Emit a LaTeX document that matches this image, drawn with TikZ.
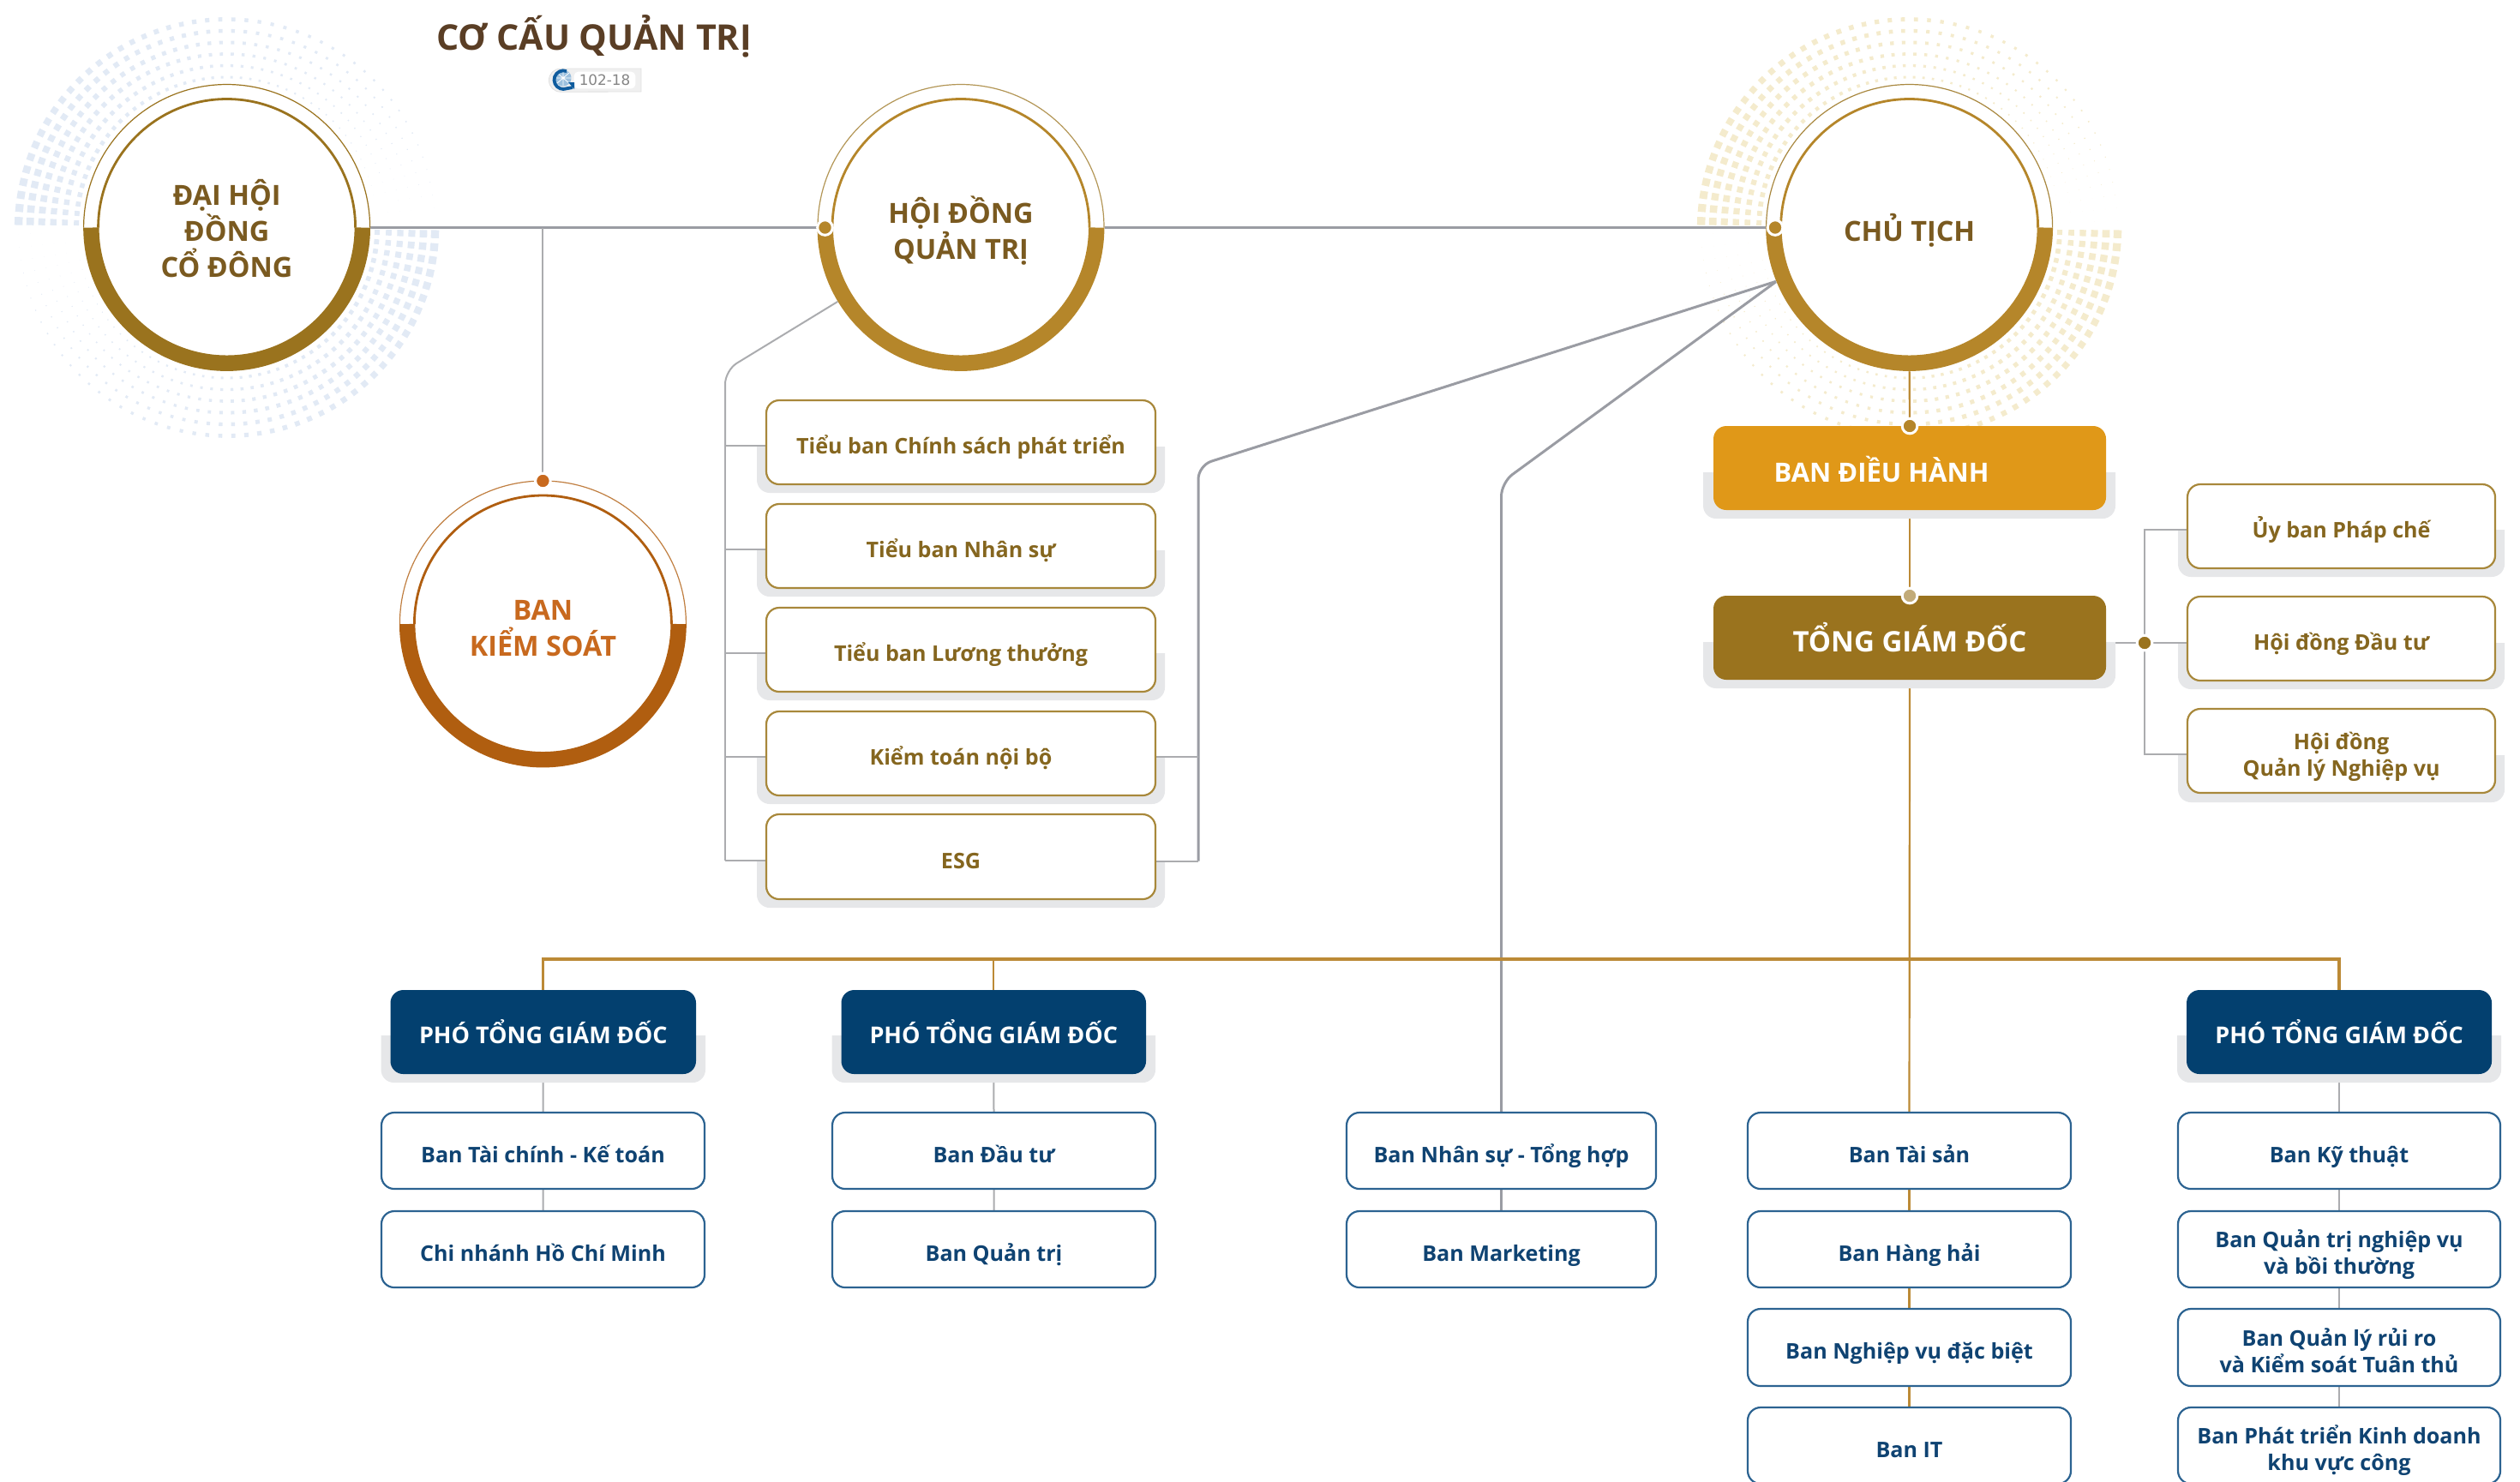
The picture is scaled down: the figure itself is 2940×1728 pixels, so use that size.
\documentclass[tikz,border=0pt]{standalone}
\usepackage{fontspec}
\setmainfont{Open Sans}
\newfontfamily\badgefont{DejaVu Sans}
\pgfdeclarelayer{halo}\pgfdeclarelayer{conna}\pgfdeclarelayer{shad}\pgfdeclarelayer{connb}
\pgfsetlayers{halo,conna,shad,connb,main}
\definecolor{titlec}{HTML}{5A3E25}
\definecolor{ringtext}{HTML}{7A5A20}
\definecolor{goldA}{HTML}{9A731E}
\definecolor{goldB}{HTML}{B5862A}
\definecolor{rust}{HTML}{B05E10}
\definecolor{rusttext}{HTML}{C8691E}
\definecolor{goldtext}{HTML}{85661F}
\definecolor{goldedge}{HTML}{A8883B}
\definecolor{navy}{HTML}{03406F}
\definecolor{navyedge}{HTML}{2C6391}
\definecolor{navytext}{HTML}{0F4372}
\definecolor{orangeb}{HTML}{E09818}
\definecolor{shadowc}{HTML}{E6E7E9}
\definecolor{mainline}{HTML}{9A9CA3}
\definecolor{thinline}{HTML}{ABACAF}
\definecolor{goldline}{HTML}{BC8A36}
\definecolor{dotblue}{HTML}{E2EAF5}
\definecolor{dotgold}{HTML}{F4EBCD}
\definecolor{logoblue}{HTML}{0F5C9E}
\definecolor{logolight}{HTML}{9CC0DE}
\tikzset{
  mainl/.style={draw=mainline,line width=0.75pt},
  thinl/.style={draw=thinline,line width=0.5pt},
  goldl/.style={draw=goldline,line width=0.55pt},
  goldbar/.style={draw=goldline,line width=0.8pt},
  shadowfill/.style={fill=shadowc},
  boxbase/.style={rectangle,rounded corners=3.75pt,inner sep=0pt,outer sep=0pt,align=center,fill=white,line width=0.55pt},
  goldbox/.style={boxbase,draw=goldedge,text=goldtext,font=\fontsize{6.28}{7.75}\selectfont\bfseries},
  navybox/.style={boxbase,draw=navyedge,text=navytext,font=\fontsize{6.28}{7.75}\selectfont\bfseries},
  headbox/.style={boxbase,draw=none,fill=navy,text=white,font=\fontsize{6.75}{7.75}\selectfont\bfseries},
  bigbox/.style={boxbase,draw=none,text=white,font=\fontsize{8.25}{9}\selectfont\bfseries},
  ringnode/.style={circle,minimum size=83.5pt,inner sep=0pt,outer sep=0pt,align=center,font=\fontsize{8.1}{10.5}\selectfont\bfseries},
  hub/.style={circle,minimum size=4.4pt,inner sep=0pt,outer sep=0pt,draw=white,line width=0.75pt},
}
% x1 y1 x2 y2 of a box, with its text a little below the middle
\newcommand{\bx}[7]{\node[#6,minimum width={(#4-#2)*0.25pt},minimum height={(#5-#3)*0.25pt}] (#1) at ({(#2+#4)/2},{(#3+#5)/2}) {\rule{0pt}{9.8pt}#7\rule[-3pt]{0pt}{0pt}};}
\newcommand{\shd}[4]{\begin{pgfonlayer}{shad}\fill[shadowfill] (#1,#2) -- (#3,#2) [rounded corners=3.75pt] -- (#3,#4) -- (#1,#4) [sharp corners] -- cycle;\end{pgfonlayer}}
% concentric rings of square dots that shrink clockwise
\newcommand{\halodots}[3]{\begin{pgfonlayer}{halo}
  \foreach \R in {243,229.5,216,202.5,189,175.5}{
    \pgfmathsetmacro\szz{6+3.5*(\R-175.5)/67.5}
    \foreach \k in {0,...,49}{
      \pgfmathsetmacro\aa{\k*3.6+1.8}
      \pgfmathsetmacro\ss{\szz*(1-\aa/180)/2}
      \fill[#3,shift={({#1+\R*cos(\aa)},{#2+\R*sin(\aa)})},rotate=-\aa] (-\ss,-\ss) rectangle (\ss,\ss);
      \fill[#3,shift={({#1-\R*cos(\aa)},{#2-\R*sin(\aa)})},rotate=-\aa] (-\ss,-\ss) rectangle (\ss,\ss);
    }
  }
\end{pgfonlayer}}
% disk, thin and inner upper rings, thick lower band
\newcommand{\ringshape}[4]{
  \fill[white] (#1,#2) circle[radius=41.9pt];
  \draw[#4,line width=0.3pt] ({#1-167},#2) arc[start angle=180,end angle=0,radius=41.75pt];
  \draw[#3,line width=0.7pt] ({#1-150},#2) arc[start angle=180,end angle=0,radius=37.5pt];
  \draw[#3,line width=4.6pt] ({#1-158.2},#2) arc[start angle=180,end angle=360,radius=39.55pt];
}
\begin{document}
\begin{tikzpicture}[x=0.25pt,y=-0.25pt]
\useasboundingbox (0,0) rectangle (2940,1728);
\clip (0,0) rectangle (2940,1728);

\halodots{264.6}{265.5}{dotblue}
\halodots{2227.6}{265.5}{dotgold}

\ringshape{264.6}{265.5}{goldA}{goldA}
\ringshape{1121}{265.5}{goldB}{goldA!75}
\ringshape{2227.6}{265.5}{goldB}{goldA!85}
\ringshape{633.4}{728}{rust}{rust!80}

\node[ringnode,text=ringtext] (dhcd) at (264.6,265.5) {\rule{0pt}{11pt}ĐẠI HỘI\\ĐỒNG\\CỔ ĐÔNG\rule[-3pt]{0pt}{0pt}};
\node[ringnode,text=ringtext] (hdqt) at (1121,265.5) {\rule{0pt}{11pt}HỘI ĐỒNG\\QUẢN TRỊ\rule[-3pt]{0pt}{0pt}};
\node[ringnode,text=ringtext] (ct) at (2227.6,265.5) {\rule{0pt}{11pt}CHỦ TỊCH\rule[-3pt]{0pt}{0pt}};
\node[ringnode,text=rusttext] (bks) at (633.4,728) {\rule{0pt}{11pt}BAN\\KIỂM SOÁT\rule[-3pt]{0pt}{0pt}};

\node[text=titlec,font=\fontsize{10.3}{12}\selectfont\bfseries,inner sep=0pt] (title) at (693,42) {CƠ CẤU QUẢN TRỊ};

% badge
\fill[fill=black!6,draw=black!12,line width=0.2pt] (748,80) -- (654,80) arc[start angle=90,end angle=270,radius=3.4pt] -- (748,107) -- cycle;
\node[fill=white,rounded corners=1.2pt,minimum width=17.9pt,minimum height=4.9pt,inner sep=0pt,text=black!48,font=\badgefont\fontsize{4.2}{5}\selectfont] (badge) at (705.5,93.5) {102-18};
\fill[logolight] (657,91) circle[radius=2.4pt];
\draw[white,line width=0.2pt] (648,91) -- (667,91) (657,82) -- (657,100) (650,85) -- (664,97) (664,85) -- (650,97);
\draw[logoblue,line width=0.95pt] (661,83) arc[start angle=70,end angle=290,radius=2.7pt] -- (668,102);
\fill[logoblue] (663,96) -- (670,96) -- (670,104) -- cycle;

% Council boxes
\bx{tb1}{894}{467}{1348}{565}{goldbox}{Tiểu ban Chính sách phát triển}
\bx{tb2}{894}{588}{1348}{686}{goldbox}{Tiểu ban Nhân sự}
\bx{tb3}{894}{709}{1348}{807}{goldbox}{Tiểu ban Lương thưởng}
\bx{tb4}{894}{830}{1348}{928}{goldbox}{Kiểm toán nội bộ}
\bx{tb5}{894}{950}{1348}{1049}{goldbox}{ESG}
\shd{883}{521}{1359}{575}
\shd{883}{642}{1359}{696}
\shd{883}{762}{1359}{817}
\shd{883}{883}{1359}{938}
\shd{883}{1004}{1359}{1059}

% Executive
\bx{bdh}{1999}{497}{2457}{595}{bigbox,fill=orangeb,font=\fontsize{7.75}{9}\selectfont\bfseries}{\rule{0pt}{11pt}BAN ĐIỀU HÀNH\hspace{16.5pt}}
\bx{tgd}{1999}{695}{2457}{793}{bigbox,fill=goldA}{\rule{0pt}{11pt}TỔNG GIÁM ĐỐC}
\shd{1987}{551}{2468}{605}
\shd{1987}{749}{2468}{803}

\bx{ub}{2552}{565}{2911}{663}{goldbox}{Ủy ban Pháp chế}
\bx{hd}{2552}{696}{2911}{794}{goldbox}{Hội đồng Đầu tư}
\bx{hq}{2552}{827}{2911}{925}{goldbox}{Hội đồng\\Quản lý Nghiệp vụ}
\shd{2541}{618}{2922}{673}
\shd{2541}{750}{2922}{804}
\shd{2541}{881}{2922}{936}

% Deputy heads
\bx{pt1}{455.5}{1155}{812}{1253}{headbox}{PHÓ TỔNG GIÁM ĐỐC}
\bx{pt2}{981.5}{1155}{1337}{1253}{headbox}{PHÓ TỔNG GIÁM ĐỐC}
\bx{pt3}{2551}{1155}{2907}{1253}{headbox}{PHÓ TỔNG GIÁM ĐỐC}
\shd{444.5}{1208}{823}{1263}
\shd{970.5}{1208}{1348}{1263}
\shd{2540}{1208}{2918}{1263}

% Departments
\bx{tc}{445}{1298}{822}{1387}{navybox}{Ban Tài chính - Kế toán}
\bx{cn}{445}{1413}{822}{1502}{navybox}{Chi nhánh Hồ Chí Minh}
\bx{dt}{971}{1298}{1348}{1387}{navybox}{Ban Đầu tư}
\bx{qt}{971}{1413}{1348}{1502}{navybox}{Ban Quản trị}
\bx{ns}{1571}{1298}{1932}{1387}{navybox}{Ban Nhân sự - Tổng hợp}
\bx{mk}{1571}{1413}{1932}{1502}{navybox}{Ban Marketing}
\bx{ts}{2039}{1298}{2416}{1387}{navybox}{Ban Tài sản}
\bx{hh}{2039}{1413}{2416}{1502}{navybox}{Ban Hàng hải}
\bx{nv}{2039}{1527}{2416}{1617}{navybox}{Ban Nghiệp vụ đặc biệt}
\bx{it}{2039}{1642}{2416}{1731}{navybox}{Ban IT}
\bx{kt}{2541}{1298}{2917}{1387}{navybox}{Ban Kỹ thuật}
\bx{qn}{2541}{1413}{2917}{1502}{navybox}{Ban Quản trị nghiệp vụ\\và bồi thường}
\bx{rr}{2541}{1527}{2917}{1617}{navybox}{Ban Quản lý rủi ro\\và Kiểm soát Tuân thủ}
\bx{pk}{2541}{1642}{2917}{1731}{navybox}{Ban Phát triển Kinh doanh\\khu vực công}

% Hubs
\node[hub,fill=goldB] (h2) at (962.5,265.5) {};
\node[hub,fill=goldB] (h3) at (2071,265.5) {};
\node[hub,fill=rusttext] (h4) at (bks.north) {};
\node[hub,fill=goldB] (h5) at (bdh.north) {};
\node[hub,fill=goldA!60!white] (h6) at (tgd.north) {};
\node[hub,fill=goldA] (h7) at (2502,750) {};

\coordinate (tbc) at (846,432);
\coordinate (rc) at (1398,543);
\coordinate (mc) at (1751.5,563);
\coordinate (gh) at (2227.5,1119);
\foreach \n in {tb1,tb2,tb3,tb4,tb5}{\coordinate (\n-l) at ([yshift=-1pt]\n.west);}
\coordinate (tb4-r) at ([yshift=-1pt]tb4.east);
\coordinate (tb5-r) at ([yshift=-1.25pt]tb5.east);
\coordinate (ub-l) at ([yshift=-1pt]ub.west);
\coordinate (hq-l) at ([yshift=-1pt]hq.west);

\begin{pgfonlayer}{conna}
  \draw[mainl] (dhcd.east) -- (hdqt.west);
  \draw[mainl] (hdqt.east) -- (ct.west);
  \draw[thinl] (bks.north |- dhcd.east) -- (h4);
  \draw[mainl,rounded corners=4pt] (ct.202.7) -- (rc) -- (rc |- tb5-r);
  \draw[mainl,rounded corners=4pt] (ct.202.7) -- (mc) -- (mc |- ns.north);
  \draw[mainl] (ns.south) -- (mk.north);
  \draw[thinl,rounded corners=4pt] (hdqt.211.3) -- (tbc) -- (tbc |- tb1-l);
  \draw[thinl] (tgd.east |- h7) -- (h7);
  % grey department chains
  \draw[thinl] (pt1.south) -- (tc.north) (tc.south) -- (cn.north);
  \draw[thinl] (pt2.south) -- (dt.north) (dt.south) -- (qt.north);
  \draw[thinl,line width=0.7pt] (pt3.south) -- (kt.north) (kt.south) -- (qn.north) (qn.south) -- (rr.north) (rr.south) -- (pk.north);
  % gold chains
  \draw[goldl] (ct.south) -- (bdh.north);
  \draw[goldl] (bdh.south) -- (tgd.north);
  \draw[goldl] (tgd.south) -- (ts.north);
  \draw[goldbar] (pt1.north) -- (pt1.north |- gh) -- (pt3.north |- gh) -- (pt3.north);
  \draw[goldl] (pt2.north |- gh) -- (pt2.north);
  \draw[goldl] (ts.south) -- (hh.north) (hh.south) -- (nv.north) (nv.south) -- (it.north);
\end{pgfonlayer}
\begin{pgfonlayer}{connb}
  \draw[thinl] (tbc |- tb1-l) -- (tbc |- tb5-l);
  \foreach \n in {tb1,tb2,tb3,tb4,tb5}{\draw[thinl] (\n-l) -- (tbc |- \n-l);}
  \draw[thinl] (tb4-r) -- (rc |- tb4-r);
  \draw[thinl] (tb5-r) -- (rc |- tb5-r);
  \draw[thinl] (h7) -- (hd.west |- h7);
  \draw[thinl] (ub-l) -- (h7 |- ub-l) -- (h7 |- hq-l) -- (hq-l);
\end{pgfonlayer}
\end{tikzpicture}
\end{document}
